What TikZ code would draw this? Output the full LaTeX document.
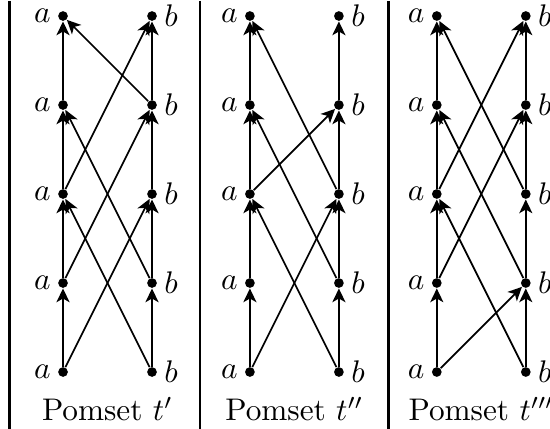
\documentclass[tikz,border=0pt]{standalone}
\usepackage{tikz}
\usetikzlibrary{arrows.meta}
\tikzset{
  ev/.style={circle, fill, inner sep=0pt, minimum size=3.1pt},
  ord/.style={line width=0.55pt, -{Stealth[length=4.4pt, width=4.2pt, inset=1.2pt]}},
  sepline/.style={line width=0.9pt},
}

\begin{document}
\begin{tikzpicture}
    \useasboundingbox (-0.708,-0.64) rectangle (5.472,4.18);
    % events of the three pomsets, a on the left, b on the right
    \foreach \p/\x in {1/0, 2/2.1, 3/4.2} {
      \foreach \r in {1,...,5} {
        \node[ev, label={[inner sep=2pt]left:$a$}] (p\p a\r) at (\x, \r-1) {};
        \node[ev, label={[inner sep=2pt]right:$b$}] (p\p b\r) at (\x+1, \r-1) {};
      }
      \foreach \r/\s in {1/2, 2/3, 3/4, 4/5} {
        \draw[ord] (p\p a\r) -- (p\p a\s);
        \draw[ord] (p\p b\r) -- (p\p b\s);
      }
    }
    \node (cap1) at (0.5,-0.416) {Pomset $t'$};
    \node (cap2) at (2.6,-0.416) {Pomset $t''$};
    \node (cap3) at (4.7,-0.416) {Pomset $t'''$};

    % cross edges of t'
    \draw[ord] (p1a1) -- (p1b3);
    \draw[ord] (p1b1) -- (p1a3);
    \draw[ord] (p1a2) -- (p1b4);
    \draw[ord] (p1b2) -- (p1a4);
    \draw[ord] (p1a3) -- (p1b5);
    \draw[ord] (p1b4) -- (p1a5);
    % cross edges of t''
    \draw[ord] (p2a1) -- (p2b3);
    \draw[ord] (p2b1) -- (p2a3);
    \draw[ord] (p2a3) -- (p2b4);
    \draw[ord] (p2b2) -- (p2a4);
    \draw[ord] (p2b3) -- (p2a5);
    % cross edges of t'''
    \draw[ord] (p3a1) -- (p3b2);
    \draw[ord] (p3b1) -- (p3a3);
    \draw[ord] (p3a2) -- (p3b4);
    \draw[ord] (p3b2) -- (p3a4);
    \draw[ord] (p3a3) -- (p3b5);
    \draw[ord] (p3b3) -- (p3a5);

    % separators
    \draw[sepline] (-0.6,4.17) -- (-0.6,-0.64);
    \draw[sepline] (1.54,4.17) -- (1.54,-0.64);
    \draw[sepline] (3.66,4.17) -- (3.66,-0.64);
  \end{tikzpicture}
\end{document}
